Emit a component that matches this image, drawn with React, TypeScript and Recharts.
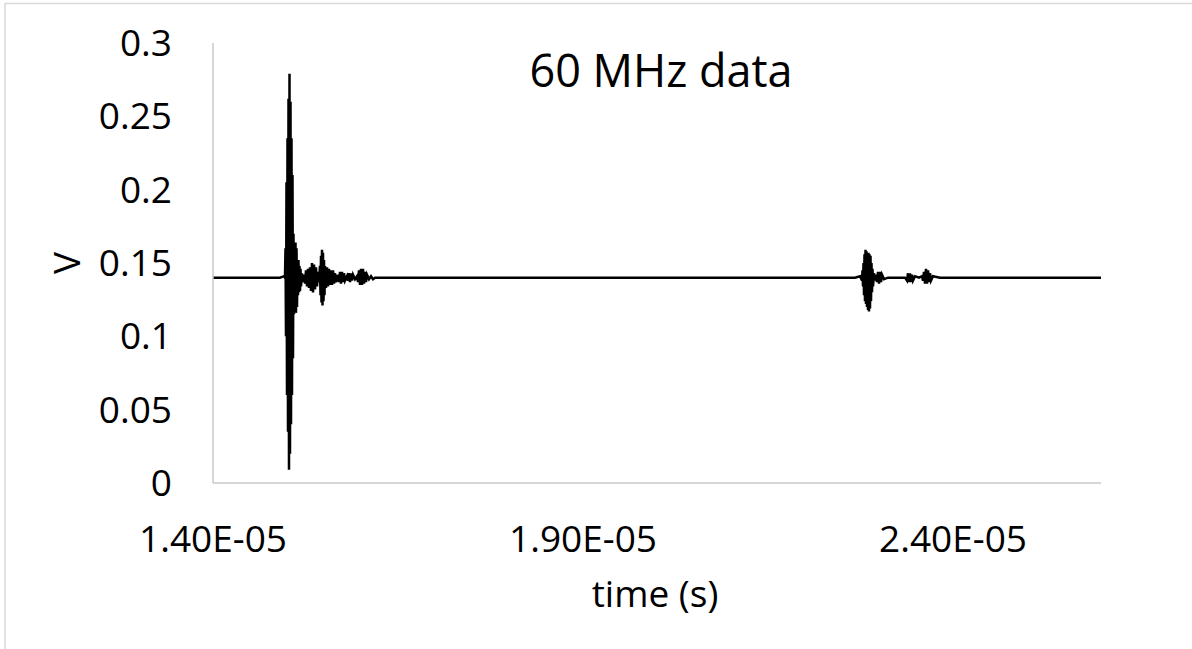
import React from "react";
import { LineChart, Line, XAxis, YAxis } from "recharts";

// time in microseconds
const timeUs: number[] = [
  14.0, 14.5, 14.7703, 14.9054, 14.9595,
  14.973, 14.9797, 14.9865, 14.9932, 15.0, 15.0068, 15.0135, 15.0203, 15.027, 15.0338,
  15.0405, 15.0473, 15.0541, 15.0608, 15.0676, 15.0743, 15.0811, 15.0878, 15.0946, 15.1014,
  15.1081, 15.1149, 15.1216, 15.1284, 15.1351, 15.1419, 15.1486, 15.1554, 15.1622, 15.1689,
  15.1757, 15.1824, 15.1892, 15.2027, 15.2162, 15.2297, 15.2432, 15.2568, 15.2703, 15.2838,
  15.2973, 15.3108, 15.3243, 15.3378, 15.3514, 15.3649, 15.3784, 15.3919, 15.4054, 15.4189,
  15.4324, 15.4459, 15.4527, 15.4595, 15.4662, 15.473, 15.4797, 15.4865, 15.4932, 15.5,
  15.5068, 15.5135, 15.527, 15.5405, 15.5541, 15.5676, 15.5811, 15.5946, 15.6081, 15.6216,
  15.6351, 15.6486, 15.6622, 15.6892, 15.7027, 15.7162, 15.7297, 15.7432, 15.7568, 15.7703,
  15.7838, 15.8108, 15.8243, 15.8378, 15.8514, 15.8649, 15.8784, 15.8919, 15.9189, 15.9459,
  15.9595, 15.973, 15.9865, 16.0, 16.0135, 16.027, 16.0405, 16.0541, 16.0676, 16.0811,
  16.1081, 16.1351, 16.1622, 16.1892, 16.2297, 16.3243, 17.2027, 18.5541, 19.9054, 21.2568,
  22.6757, 22.7432, 22.7703, 22.777, 22.7838, 22.7905, 22.7973, 22.8041, 22.8108, 22.8176,
  22.8243, 22.8311, 22.8378, 22.8446, 22.8514, 22.8581, 22.8649, 22.8716, 22.8784, 22.8851,
  22.8919, 22.8986, 22.9054, 22.9122, 22.9189, 22.9324, 22.9459, 22.9595, 22.973, 22.9865,
  23.0, 23.0135, 23.027, 23.0405, 23.0676, 23.1216, 23.2162, 23.3514, 23.3784, 23.3919,
  23.4054, 23.4189, 23.4324, 23.4459, 23.4595, 23.4865, 23.5405, 23.5811, 23.5946, 23.6081,
  23.6216, 23.6351, 23.6486, 23.6622, 23.6757, 23.6892, 23.7027, 23.7297, 23.8243, 23.9595,
  24.0946, 24.2297, 24.6351, 26.0,
];

// voltage (V)
const volts: number[] = [
  0.140, 0.140, 0.140, 0.140, 0.141,
  0.140, 0.160, 0.100, 0.205, 0.060, 0.235, 0.035, 0.262, 0.009, 0.279,
  0.020, 0.260, 0.040, 0.235, 0.060, 0.210, 0.085, 0.170, 0.115, 0.155,
  0.118, 0.164, 0.116, 0.160, 0.120, 0.152, 0.128, 0.152, 0.130, 0.148,
  0.131, 0.146, 0.134, 0.143, 0.137, 0.142, 0.136, 0.145, 0.134, 0.146,
  0.133, 0.147, 0.131, 0.150, 0.130, 0.149, 0.132, 0.147, 0.134, 0.144,
  0.137, 0.148, 0.128, 0.155, 0.123, 0.159, 0.121, 0.157, 0.124, 0.152,
  0.128, 0.148, 0.133, 0.147, 0.134, 0.146, 0.135, 0.145, 0.135, 0.145,
  0.136, 0.143, 0.137, 0.142, 0.137, 0.144, 0.136, 0.144, 0.137, 0.143,
  0.138, 0.141, 0.138, 0.143, 0.137, 0.143, 0.138, 0.142, 0.139, 0.141,
  0.137, 0.145, 0.135, 0.146, 0.135, 0.146, 0.136, 0.144, 0.137, 0.142,
  0.139, 0.141, 0.139, 0.140, 0.140, 0.140, 0.140, 0.140, 0.140, 0.140,
  0.140, 0.141, 0.138, 0.145, 0.134, 0.150, 0.128, 0.156, 0.124, 0.159,
  0.122, 0.158, 0.120, 0.157, 0.118, 0.157, 0.117, 0.156, 0.119, 0.155,
  0.124, 0.150, 0.130, 0.146, 0.134, 0.143, 0.138, 0.142, 0.137, 0.144,
  0.136, 0.144, 0.137, 0.142, 0.139, 0.140, 0.140, 0.140, 0.138, 0.143,
  0.137, 0.143, 0.137, 0.142, 0.138, 0.141, 0.140, 0.141, 0.138, 0.144,
  0.136, 0.146, 0.136, 0.145, 0.137, 0.143, 0.138, 0.141, 0.140, 0.140,
  0.140, 0.140, 0.140, 0.140,
];

const xTickValues: number[] = [1.4e-5, 1.9e-5, 2.4e-5];
const xTickLabels: string[] = ["1.40E-05", "1.90E-05", "2.40E-05"];
const yTickValues: number[] = [0, 0.05, 0.1, 0.15, 0.2, 0.25, 0.3];
const yTickLabels: string[] = ["0", "0.05", "0.1", "0.15", "0.2", "0.25", "0.3"];

const title = "60 MHz data";
const xTitle = "time (s)";
const yTitle = "V";

const data = timeUs.map((t, i) => ({ t: t * 1e-6, v: volts[i] }));

const FONT = "'Open Sans', sans-serif";

const fmtX = (val: number) => {
  const i = xTickValues.findIndex((x) => Math.abs(x - val) < 1e-9);
  return i >= 0 ? xTickLabels[i] : String(val);
};
const fmtY = (val: number) => {
  const i = yTickValues.findIndex((y) => Math.abs(y - val) < 1e-9);
  return i >= 0 ? yTickLabels[i] : String(val);
};

export default function App() {
  return (
    <div style={{ position: "absolute", left: 0, top: 0, width: 1192, height: 649, background: "#fff", fontFamily: FONT }}>
      <LineChart
        width={1192}
        height={649}
        data={data}
        margin={{ top: 43, right: 91, left: 153, bottom: 136 }}
      >
        <XAxis
          dataKey="t"
          type="number"
          domain={[1.4e-5, 2.6e-5]}
          ticks={xTickValues}
          tickFormatter={fmtX}
          allowDataOverflow
          height={30}
          tickLine={false}
          tickSize={0}
          tickMargin={43}
          axisLine={{ stroke: "#c8c8c8", strokeWidth: 1.5 }}
          tick={{ fill: "#000", fontSize: 37, fontFamily: FONT }}
          interval={0}
        />
        <YAxis
          type="number"
          domain={[0, 0.3]}
          ticks={yTickValues}
          tickFormatter={fmtY}
          width={60}
          tickLine={false}
          tickSize={0}
          tickMargin={41}
          axisLine={{ stroke: "#c8c8c8", strokeWidth: 1.5 }}
          tick={{ fill: "#000", fontSize: 37, fontFamily: FONT }}
          interval={0}
        />
        <Line
          dataKey="v"
          type="linear"
          stroke="#000"
          strokeWidth={2.5}
          dot={false}
          activeDot={false}
          isAnimationActive={false}
        />
      </LineChart>
      <svg
        width={1192}
        height={649}
        style={{ position: "absolute", left: 0, top: 0, pointerEvents: "none" }}
      >
        <line x1={5} y1={3.5} x2={1192} y2={3.5} stroke="#d9d9d9" strokeWidth={1.5} />
        <line x1={5} y1={3} x2={5} y2={649} stroke="#d9d9d9" strokeWidth={1.5} />
        <text x={661} y={87} textAnchor="middle" fontSize={45} fontFamily={FONT} fill="#000">
          {title}
        </text>
        <text x={655} y={607} textAnchor="middle" fontSize={37} fontFamily={FONT} fill="#000">
          {xTitle}
        </text>
        <text
          x={80}
          y={263}
          textAnchor="middle"
          fontSize={37}
          fontFamily={FONT}
          fill="#000"
          transform="rotate(-90, 80, 263)"
        >
          {yTitle}
        </text>
      </svg>
    </div>
  );
}
